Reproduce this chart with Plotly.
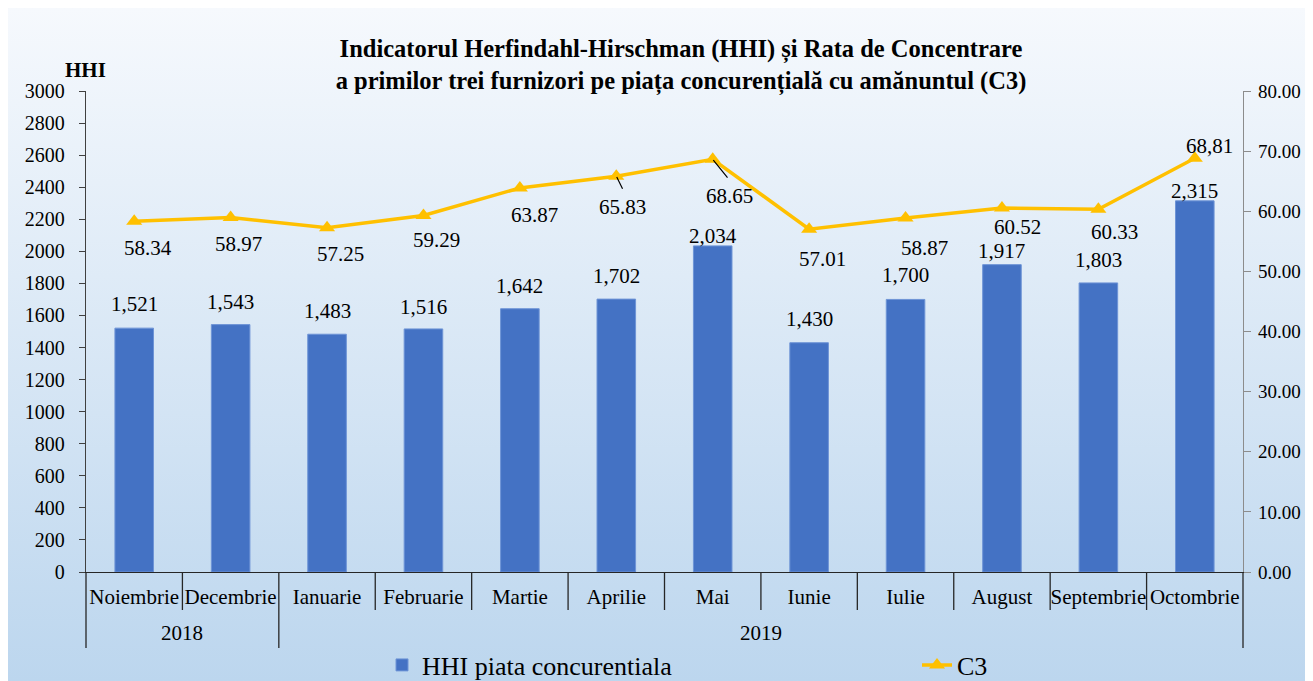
import base64
import plotly.graph_objects as go

# ---------------- data ----------------
months = ["Noiembrie", "Decembrie", "Ianuarie", "Februarie", "Martie", "Aprilie",
          "Mai", "Iunie", "Iulie", "August", "Septembrie", "Octombrie"]
years = ["2018", "2019"]
year_counts = [2, 10]
hhi = [1521, 1543, 1483, 1516, 1642, 1702, 2034, 1430, 1700, 1917, 1803, 2315]
c3 = [58.34, 58.97, 57.25, 59.29, 63.87, 65.83, 68.65, 57.01, 58.87, 60.52, 60.33, 68.81]
c3_labels = ["58.34", "58.97", "57.25", "59.29", "63.87", "65.83",
             "68.65", "57.01", "58.87", "60.52", "60.33", "68,81"]
hhi_labels = [f"{v:,}" for v in hhi]

# label placement (pixel offsets, as in the reference)
bar_label_up = [24, 23, 23, 22, 23, 23, 10, 24, 24, 14, 23, 10]
c3_label_dx = [14, 8, 13, 13, 15, 6, 17, 13, 19, 16, 16, 15]
c3_label_down = [27, 27, 26, 24, 27, 31, 37, 30, 30, 19, 23, -12]
leaders = {5: (7, 14), 6: (16, 20)}  # index -> (ax, ay) of leader line end

FONT = "Liberation Serif, Times New Roman, serif"
# the page body adds an 8px margin; the figure is sized to fill the rest
OFF = 8
W, H = 1313 - OFF, 681 - OFF
L, R, T, B = 86 - OFF, 70, 91 - OFF, 109
PW, PH = W - L - R, H - T - B


def px_x(page_x):
    return (page_x - OFF - L) / PW


def px_y(page_y):
    return (H - B - (page_y - OFF)) / PH


fig = go.Figure()
fig.add_trace(go.Bar(
    x=months, y=hhi, name="HHI piata concurentiala",
    marker=dict(color="#4472C4", line=dict(color="#6E94D6", width=1)),
    legend="legend", hoverinfo="x+y",
))
fig.add_trace(go.Scatter(
    x=months, y=c3, name="C3", yaxis="y2", mode="lines+markers",
    line=dict(color="#FFC000", width=3.5),
    marker=dict(symbol="triangle-up", size=14, color="#FFC000"),
    legend="legend2",
))

ann = []
for i, m in enumerate(months):
    ann.append(dict(x=m, y=hhi[i], xref="x", yref="y", text=hhi_labels[i],
                    showarrow=False, yshift=bar_label_up[i],
                    xanchor="center", yanchor="middle",
                    font=dict(family=FONT, size=21, color="black")))
    ann.append(dict(x=m, y=c3[i], xref="x", yref="y2", text=c3_labels[i],
                    showarrow=False, xshift=c3_label_dx[i], yshift=-c3_label_down[i],
                    xanchor="center", yanchor="middle",
                    font=dict(family=FONT, size=21, color="black")))
for i, (ax, ay) in leaders.items():
    ann.append(dict(x=months[i], y=c3[i], xref="x", yref="y2", text="",
                    showarrow=True, arrowhead=0, arrowwidth=1.2, arrowcolor="black",
                    ax=ax, ay=ay, standoff=1))

# year labels under the month labels
start = 0
for yr, n in zip(years, year_counts):
    ann.append(dict(x=start + (n - 1) / 2, y=px_y(633), xref="x", yref="paper",
                    text=yr, showarrow=False, xanchor="center", yanchor="middle",
                    font=dict(family=FONT, size=21, color="black")))
    start += n

# axis title "HHI"
ann.append(dict(x=px_x(85), y=px_y(70), xref="paper", yref="paper",
                text="<b>HHI</b>", showarrow=False, xanchor="center", yanchor="middle",
                font=dict(family=FONT, size=21, color="black")))

# category dividers
shapes = []
n_cat = len(months)
year_bounds = [0]
for n in year_counts:
    year_bounds.append(year_bounds[-1] + n)
for k in range(n_cat + 1):
    long = k in year_bounds
    y1 = px_y(648) if long else px_y(610)
    shapes.append(dict(type="line", xref="x domain", yref="paper",
                       x0=k / n_cat, x1=k / n_cat, y0=0, y1=y1,
                       line=dict(color="#262626", width=1.3)))

# gradient background
svg = ('<svg xmlns="http://www.w3.org/2000/svg" width="100" height="100" preserveAspectRatio="none">'
       '<defs><linearGradient id="g" x1="0" y1="0" x2="0" y2="1">'
       '<stop offset="0" stop-color="#F6F9FD"/><stop offset="1" stop-color="#BCD6EE"/>'
       '</linearGradient></defs><rect width="100" height="100" fill="url(#g)"/></svg>')
src = "data:image/svg+xml;base64," + base64.b64encode(svg.encode()).decode()
images = [dict(source=src, xref="paper", yref="paper",
               x=-L / PW, y=(H - B) / PH, sizex=W / PW, sizey=H / PH,
               xanchor="left", yanchor="top", sizing="stretch", layer="below")]

fig.update_layout(
    width=W, height=H, autosize=False,
    margin=dict(l=L, r=R, t=T, b=B),
    paper_bgcolor="#D9E8F5", plot_bgcolor="rgba(0,0,0,0)",
    font=dict(family=FONT, color="black"),
    bargap=0.6,
    title=dict(
        text="<b>Indicatorul Herfindahl-Hirschman (HHI) și Rata de Concentrare<br>"
             "a primilor trei furnizori pe piața concurențială cu amănuntul (C3)</b>",
        x=(681 - OFF) / W, xref="container", xanchor="center",
        y=1 - (57 - OFF) / H, yref="container", yanchor="middle",
        font=dict(family=FONT, size=24.5, color="black"),
    ),
    xaxis=dict(type="category", categoryorder="array", categoryarray=months,
               range=[-0.5, n_cat - 0.5], tickangle=0, ticks="",
               showline=True, linecolor="#262626", linewidth=1.3, automargin=False,
               showgrid=False, zeroline=False, ticklabelstandoff=6,
               tickfont=dict(family=FONT, size=21, color="black")),
    yaxis=dict(range=[0, 3000], dtick=200, tickformat="d", ticks="outside",
               ticklen=6, tickcolor="#404040", showline=True, linecolor="#404040",
               linewidth=1.3, showgrid=False, zeroline=False, ticklabelstandoff=10,
               automargin=False,
               tickfont=dict(family=FONT, size=20, color="black")),
    yaxis2=dict(range=[0, 80], dtick=10, tickformat=".2f", overlaying="y", side="right",
                ticks="outside", ticklen=7, tickcolor="#8C8C8C", showline=True,
                linecolor="#8C8C8C", linewidth=1.3, showgrid=False, zeroline=False,
                ticklabelstandoff=3, automargin=False,
                tickfont=dict(family=FONT, size=19, color="black")),
    legend=dict(orientation="h", xref="container", yref="container",
                x=(382 - OFF) / W, xanchor="left", y=(681 - 665) / H, yanchor="middle",
                bgcolor="rgba(0,0,0,0)", font=dict(family=FONT, size=26, color="black")),
    legend2=dict(orientation="h", xref="container", yref="container",
                 x=(917 - OFF) / W, xanchor="left", y=(681 - 665) / H, yanchor="middle",
                 bgcolor="rgba(0,0,0,0)", font=dict(family=FONT, size=26, color="black")),
    annotations=ann, shapes=shapes, images=images,
    showlegend=True,
)

fig.write_html("out.html")
